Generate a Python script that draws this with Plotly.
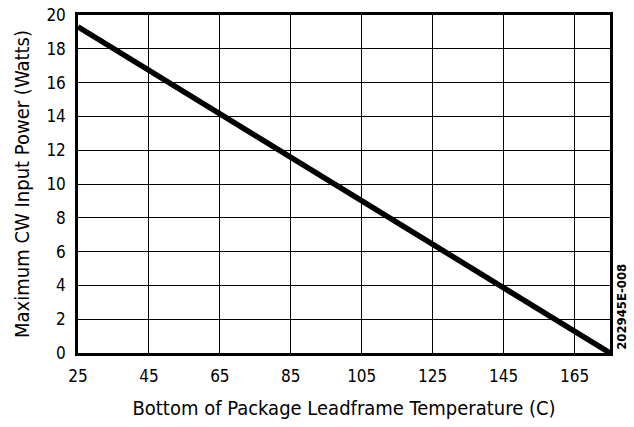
import plotly.graph_objects as go

temps = [25, 175]
power = [19.3, 0]
x_ticks = [25, 45, 65, 85, 105, 125, 145, 165]
y_ticks = [0, 2, 4, 6, 8, 10, 12, 14, 16, 18, 20]

FONT = "DejaVu Sans Condensed, Liberation Sans Narrow, Roboto, sans-serif"

fig = go.Figure()
fig.add_trace(go.Scatter(x=temps, y=power, mode="lines",
                         line=dict(color="black", width=5.5),
                         hoverinfo="skip", cliponaxis=False))
fig.update_layout(
    width=634, height=427,
    margin=dict(l=78, r=24, t=15, b=74, autoexpand=False),
    paper_bgcolor="white", plot_bgcolor="white",
    showlegend=False,
    font=dict(family=FONT, color="black"),
)
fig.update_xaxes(range=[25, 175], tickvals=x_ticks, ticktext=[str(v) for v in x_ticks],
                 automargin=False,
                 showgrid=True, gridcolor="black", gridwidth=1.3,
                 showline=True, linecolor="black", linewidth=2.5, mirror=True,
                 zeroline=False, ticks="", tickfont=dict(size=17, family=FONT),
                 ticklabelstandoff=6,
                 title=dict(text="Bottom of Package Leadframe Temperature (C)",
                            font=dict(size=20, family=FONT), standoff=16))
fig.update_yaxes(range=[0, 20], tickvals=y_ticks, automargin=False,
                 showgrid=True, gridcolor="black", gridwidth=1.3,
                 showline=True, linecolor="black", linewidth=2.5, mirror=True,
                 zeroline=False, ticks="", tickfont=dict(size=17, family=FONT),
                 ticklabelstandoff=6,
                 title=dict(text="Maximum CW Input Power (Watts)",
                            font=dict(size=20, family=FONT), standoff=12))
fig.add_annotation(text="<b>202945E-008</b>", xref="paper", yref="paper",
                   x=1, y=0.135, xanchor="left", yanchor="middle", xshift=2,
                   textangle=-90, showarrow=False,
                   font=dict(size=13, family=FONT, color="black"))
fig.write_html("out.html", config={"displayModeBar": False},
               post_script="document.body.style.margin='0';document.body.style.overflow='hidden';")
